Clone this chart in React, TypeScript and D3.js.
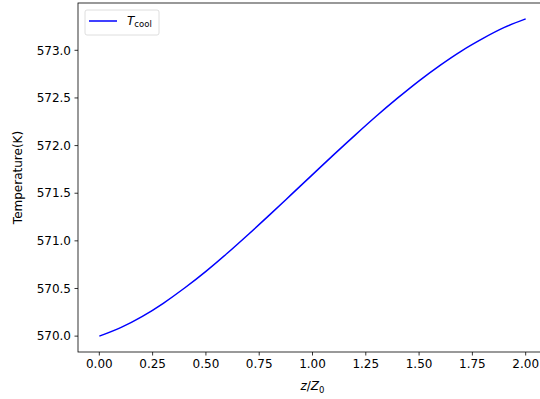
import React, { useEffect, useRef } from 'react';
import * as d3 from 'd3';

// z/Z0 positions and coolant temperature
const zValues = [0, 0.1, 0.2, 0.3, 0.4, 0.5, 0.6, 0.7, 0.8, 0.9, 1.0, 1.1, 1.2, 1.3, 1.4, 1.5, 1.6, 1.7, 1.8, 1.9, 2.0];
const tCool = [570.0, 570.09, 570.205, 570.345, 570.505, 570.68, 570.87, 571.07, 571.275, 571.485, 571.695, 571.905, 572.11, 572.31, 572.5, 572.68, 572.845, 572.995, 573.125, 573.24, 573.33];

const xTicks = [0, 0.25, 0.5, 0.75, 1.0, 1.25, 1.5, 1.75, 2.0];
const yTicks = [570.0, 570.5, 571.0, 571.5, 572.0, 572.5, 573.0];

const width = 540;
const height = 399;

const App: React.FC = () => {
    const svgRef = useRef<SVGSVGElement | null>(null);

    useEffect(() => {
        const margin = { top: 3, right: -7, bottom: 47, left: 78 };
        const svg = d3.select(svgRef.current);
        svg.selectAll('*').remove();

        const x = d3.scaleLinear()
            .domain([-0.1, 2.1])
            .range([margin.left, width - margin.right]);

        const y = d3.scaleLinear()
            .domain([569.8335, 573.4965])
            .range([height - margin.bottom, margin.top]);

        const font = 'DejaVu Sans, sans-serif';
        const g = svg.append('g');

        // the line
        const pts = zValues.map((z, i) => [z, tCool[i]] as [number, number]);
        const line = d3.line<[number, number]>()
            .x(d => x(d[0]))
            .y(d => y(d[1]))
            .curve(d3.curveNatural);

        g.append('path')
            .datum(pts)
            .attr('d', line)
            .attr('fill', 'none')
            .attr('stroke', '#0000ff')
            .attr('stroke-width', 1.5);

        // frame
        g.append('rect')
            .attr('x', margin.left)
            .attr('y', margin.top)
            .attr('width', (width - margin.right) - margin.left)
            .attr('height', (height - margin.bottom) - margin.top)
            .attr('fill', 'none')
            .attr('stroke', '#000')
            .attr('stroke-width', 0.8);

        const bottom = height - margin.bottom;

        // x ticks
        xTicks.forEach(t => {
            g.append('line')
                .attr('x1', x(t)).attr('x2', x(t))
                .attr('y1', bottom).attr('y2', bottom + 3.5)
                .attr('stroke', '#000').attr('stroke-width', 0.8);
            g.append('text')
                .attr('x', x(t))
                .attr('y', bottom + 16)
                .attr('text-anchor', 'middle')
                .attr('font-family', font)
                .attr('font-size', 12)
                .attr('fill', '#000')
                .text(t.toFixed(2));
        });

        // y ticks
        yTicks.forEach(t => {
            g.append('line')
                .attr('x1', margin.left - 3.5).attr('x2', margin.left)
                .attr('y1', y(t)).attr('y2', y(t))
                .attr('stroke', '#000').attr('stroke-width', 0.8);
            g.append('text')
                .attr('x', margin.left - 7)
                .attr('y', y(t))
                .attr('dy', '0.35em')
                .attr('text-anchor', 'end')
                .attr('font-family', font)
                .attr('font-size', 12)
                .attr('fill', '#000')
                .text(t.toFixed(1));
        });

        // axis labels
        const xl = g.append('text')
            .attr('x', (margin.left + width - margin.right) / 2)
            .attr('y', 390)
            .attr('text-anchor', 'middle')
            .attr('font-family', font)
            .attr('font-size', 12)
            .attr('fill', '#000');
        xl.append('tspan').attr('font-style', 'italic').text('z');
        xl.append('tspan').text('/');
        xl.append('tspan').attr('font-style', 'italic').text('Z');
        xl.append('tspan').attr('font-size', 8.5).attr('dy', 3).text('0');

        g.append('text')
            .attr('transform', `translate(22,${(margin.top + bottom) / 2}) rotate(-90)`)
            .attr('text-anchor', 'middle')
            .attr('font-family', font)
            .attr('font-size', 12)
            .attr('fill', '#000')
            .text('Temperature(K)');

        // legend
        const lg = g.append('g');
        lg.append('rect')
            .attr('x', 85).attr('y', 10)
            .attr('width', 74).attr('height', 25)
            .attr('rx', 2)
            .attr('fill', '#fff')
            .attr('fill-opacity', 0.8)
            .attr('stroke', '#d6d6d6')
            .attr('stroke-width', 0.8);
        lg.append('line')
            .attr('x1', 89).attr('x2', 117)
            .attr('y1', 21).attr('y2', 21)
            .attr('stroke', '#0000ff')
            .attr('stroke-width', 1.5);
        const lt = lg.append('text')
            .attr('x', 127)
            .attr('y', 25)
            .attr('font-family', font)
            .attr('font-size', 12)
            .attr('fill', '#000');
        lt.append('tspan').attr('font-style', 'italic').text('T');
        lt.append('tspan').attr('font-size', 8.5).attr('dy', 2).text('cool');
    }, []);

    return (
        <svg
            ref={svgRef}
            width={width}
            height={height}
            style={{ position: 'absolute', left: 0, top: 0, background: '#fff' }}
        />
    );
};

export default App;
